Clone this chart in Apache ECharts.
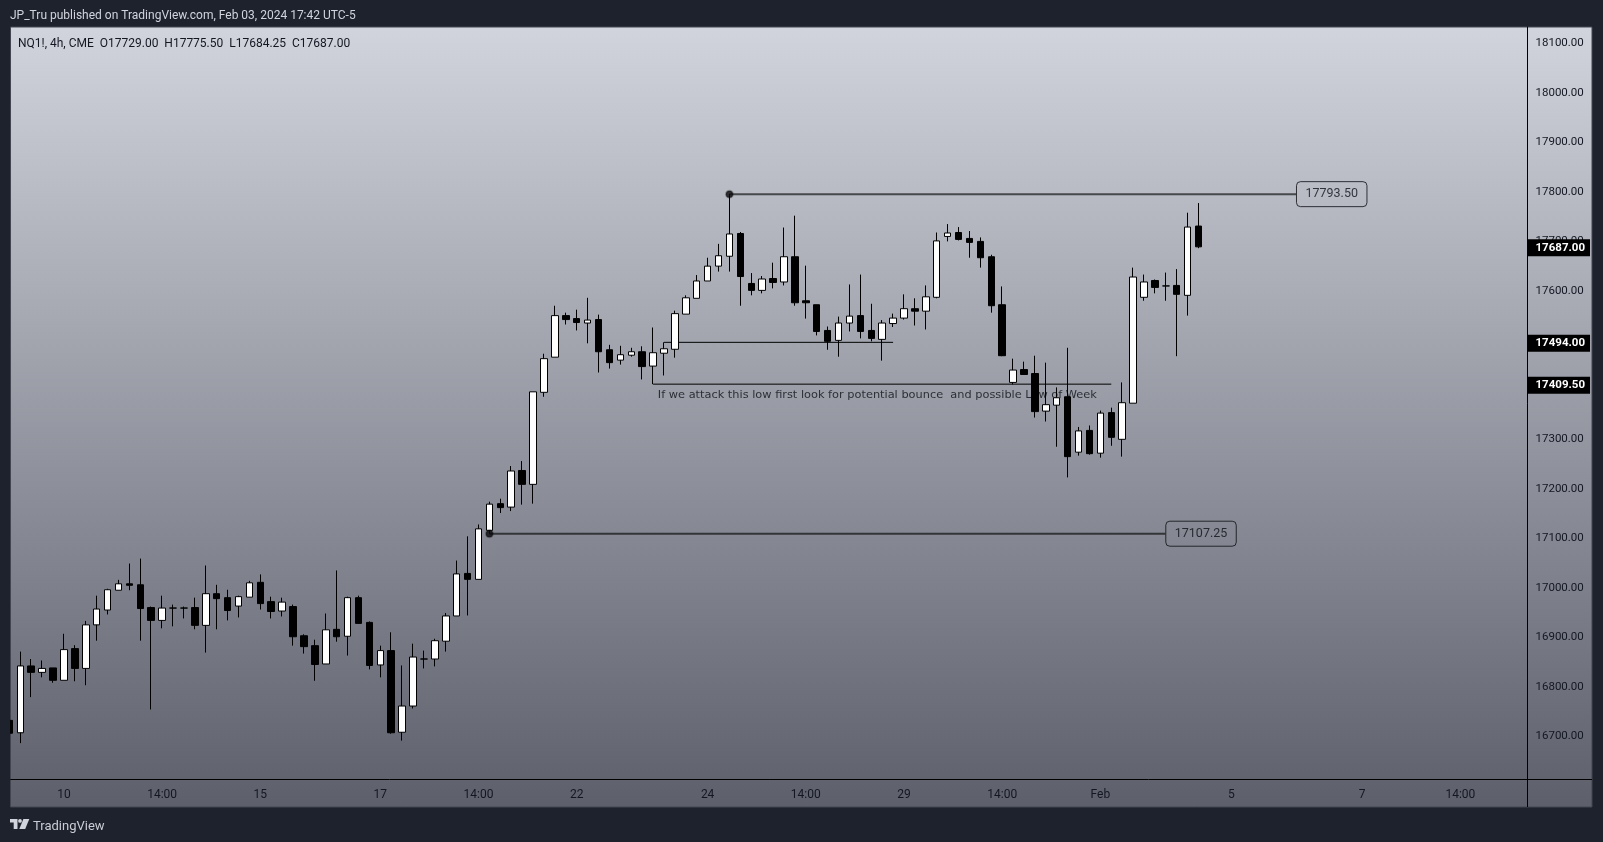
<!DOCTYPE html>
<html>
<head>
<meta charset="UTF-8">
<title></title>
<style>
	html, body { margin: 0; padding: 0; background: #1e222d; }
	#chart { width: 1603px; height: 842px; }
</style>
<script src="https://cdn.jsdelivr.net/npm/echarts@6/dist/echarts.min.js"></script>
</head>
<body>
<div id="chart"></div>
<script>
// 4h bars, first one is cut off by the left edge of the pane (index -1)
var opens = [16730,
	16705,16840,16827,16836,16811,16875,16835,16923,16953,16993,
	17006,17004,16958,16932,16957,16957,16958,16922,16986,16978,
	16961,16979,17009,16970,16951,16960,16901,16881,16844,16914,
	16900,16978,16928,16842,16871,16706,16759,16854,16854,16890,
	16941,17027,17015,17114,17168,17161,17235,17207,17393,17464,
	17548,17542,17533,17540,17479,17458,17468,17475,17446,17472,
	17480,17551,17583,17618,17648,17668,17714,17613,17599,17623,
	17616,17667,17578,17570,17518,17498,17533,17548,17518,17500,
	17532,17543,17562,17557,17585,17708,17716,17704,17698,17667,
	17570,17413,17439,17431,17355,17367,17384,17272,17316,17270,
	17352,17298,17371,17585,17619,17608,17609,17589,17729];
var closes = [16704,
	16840,16827,16835,16811,16873,16835,16923,16955,16994,17006,
	17003,16956,16932,16957,16957,16957,16922,16986,16976,16952,
	16980,17008,16966,16950,16969,16899,16879,16843,16913,16899,
	16978,16926,16841,16871,16705,16759,16858,16854,16891,16941,
	17026,17015,17117,17167,17160,17234,17207,17394,17461,17548,
	17540,17534,17539,17475,17453,17469,17475,17445,17473,17481,
	17552,17584,17618,17648,17669,17713,17627,17599,17622,17615,
	17667,17574,17574,17516,17496,17533,17547,17516,17502,17533,
	17543,17562,17557,17586,17699,17715,17702,17696,17665,17568,
	17467,17438,17429,17354,17368,17382,17263,17315,17269,17351,
	17302,17372,17626,17616,17605,17608,17591,17727,17687];
var lows = [16700,
	16684,16777,16817,16806,16811,16809,16801,16891,16944,16993,
	16993,16891,16752,16916,16920,16936,16914,16867,16914,16932,
	16938,16979,16954,16936,16940,16881,16865,16810,16844,16889,
	16861,16926,16833,16817,16703,16689,16754,16835,16839,16869,
	16941,16942,17015,17107.25,17149,17153,17166,17168,17384,17464,
	17530,17518,17492,17433,17441,17449,17465,17419,17409.5,17427,
	17463,17551,17583,17618,17637,17637,17568,17589,17593,17603,
	17609,17568,17542,17508,17479,17465,17516,17502,17496,17457,
	17525,17540,17528,17520,17583,17698,17700,17665,17645,17554,
	17466,17409,17429,17342,17334,17283,17221,17265,17267,17261,
	17285,17263,17371,17578,17593,17578,17466,17548,17684.25];
var highs = [16735,
	16869,16854,16851,16836,16905,16882,16931,16982,16996,17014,
	17047,17057,16960,16982,16964,16960,16978,17043,17004,16994,
	16982,17012,17025,16980,16978,16964,16904,16893,16946,17033,
	16980,16982,16930,16881,16908,16841,16885,16871,16895,16947,
	17053,17102,17126,17172,17178,17244,17254,17394,17471,17568,
	17554,17560,17584,17550,17489,17487,17483,17486,17524,17494,
	17558,17589,17630,17665,17693,17793.5,17717,17634,17628,17655,
	17726,17750,17649,17570,17526,17546,17611,17631,17572,17539,
	17552,17591,17583,17609,17716,17733,17727,17719,17706,17671,
	17607,17461,17455,17467,17453,17403,17483,17323,17326,17356,
	17362,17413,17645,17631,17621,17635,17642,17756,17775.5];

var priceTicks = [16700,16800,16900,17000,17100,17200,17300,17400,17500,17600,17700,17800,17900,18000,18100];
var priceTags = [17687, 17494, 17409.5];
var timeTickBars = [4,13,22,33,42,51,63,72,81,90,99,111,123,132];
var timeTickNames = ['10','14:00','15','17','14:00','22','24','14:00','29','14:00','Feb','5','7','14:00'];

var highLevel = [[65,17793.5],[116.93,17793.5]];
var lowLevel = [[43,17107.25],[104.95,17107.25]];
var midLow = [[59,17494],[80,17494]];
var weekLow = [[58,17409.5],[100,17409.5]];
var noteAt = [58.39,17387.2];
var noteText = 'If we attack this low first look for potential bounce  and possible Low of Week';

var candles = opens.map(function (o, i) {
	return [i - 1, o, closes[i], lows[i], highs[i]];
});

var uiFont = 'Roboto';

function levelLine(points) {
	return {
		type: 'line',
		data: points,
		showSymbol: false,
		silent: true,
		z: 3,
		lineStyle: { color: 'rgba(0,0,0,0.62)', width: 2 }
	};
}
function thinLine(points) {
	return {
		type: 'line',
		data: points,
		showSymbol: false,
		silent: true,
		z: 1,
		lineStyle: { color: '#000', width: 1 }
	};
}
function levelTag(points) {
	return {
		type: 'scatter',
		data: [points[1]],
		symbolSize: 1,
		silent: true,
		z: 4,
		itemStyle: { color: 'transparent' },
		label: {
			show: true,
			position: 'right',
			distance: 0,
			formatter: function (p) { return p.value[1].toFixed(2); },
			fontFamily: uiFont,
			fontSize: 12.5,
			color: '#0e1016',
			borderColor: '#0c0d12',
			borderWidth: 1,
			borderRadius: 4,
			padding: [6, 9, 6, 9]
		}
	};
}
function levelDot(points) {
	return {
		type: 'scatter',
		data: [points[0]],
		symbol: 'circle',
		symbolSize: 7,
		silent: true,
		z: 5,
		itemStyle: { color: '#0a0a0c', borderColor: 'rgba(0,0,0,0.3)', borderWidth: 2 }
	};
}

var mychart = echarts.init(document.getElementById('chart'), null, { renderer: 'canvas' });
mychart.setOption({
	animation: false,
	backgroundColor: '#1e222d',
	title: [
		{
			text: 'JP_Tru published on TradingView.com, Feb 03, 2024 17:42 UTC-5',
			left: 10, top: 10, padding: 0,
			textStyle: { color: '#d1d4dc', fontFamily: uiFont, fontSize: 12, fontWeight: 'normal' }
		},
		{
			text: 'NQ1!, 4h, CME  O17729.00  H17775.50  L17684.25  C17687.00',
			left: 18, top: 38, padding: 0,
			textStyle: { color: '#131722', fontFamily: uiFont, fontSize: 12, fontWeight: 'normal' }
		},
		{
			text: 'TradingView',
			left: 33, top: 820, padding: 0,
			textStyle: { color: '#c9ccd4', fontFamily: uiFont, fontSize: 13, fontWeight: 'normal' }
		}
	],
	grid: { left: 10.7, right: 75.5, top: 27, bottom: 62.7 },
	xAxis: {
		type: 'value',
		min: -0.88,
		max: 138.15,
		splitLine: { show: false },
		axisTick: { show: false },
		axisLine: { show: true, onZero: false, lineStyle: { color: '#000', width: 1 } },
		axisLabel: {
			customValues: timeTickBars,
			margin: 10,
			color: '#131722',
			fontFamily: uiFont,
			fontSize: 12,
			hideOverlap: false,
			formatter: function (v) { return timeTickNames[timeTickBars.indexOf(v)]; }
		}
	},
	yAxis: [
		// marks
		{
			type: 'value',
			position: 'right',
			min: 16610.9,
			max: 18131.3,
			splitLine: { show: false },
			axisTick: { show: false },
			axisLine: { show: true, onZero: false, lineStyle: { color: '#000', width: 1 } },
			axisLabel: { show: false }
		},
		// price labels, text sits a little lower than the marks
		{
			type: 'value',
			position: 'right',
			min: 16612.9,
			max: 18133.3,
			splitLine: { show: false },
			axisTick: { show: false },
			axisLine: { show: false },
			axisLabel: {
				customValues: priceTicks,
				margin: 8,
				color: '#131722',
				fontFamily: uiFont,
				fontSize: 11.5,
				hideOverlap: false,
				formatter: function (v) { return v.toFixed(2); }
			}
		},
		{
			type: 'value',
			position: 'right',
			min: 16612.9,
			max: 18133.3,
			z: 5,
			splitLine: { show: false },
			axisTick: { show: false },
			axisLine: { show: false },
			axisLabel: {
				customValues: priceTags,
				margin: 0,
				color: '#fff',
				backgroundColor: '#000',
				fontFamily: uiFont,
				fontSize: 11.5,
				fontWeight: 'bold',
				padding: [2.5, 5, 2.5, 8],
				hideOverlap: false,
				formatter: function (v) { return v.toFixed(2); }
			}
		}
	],
	graphic: [
		{
			type: 'rect', z: -10, silent: true,
			shape: { x: 10.5, y: 27, width: 1581.5, height: 780 },
			style: {
				stroke: '#434651', lineWidth: 1,
				fill: new echarts.graphic.LinearGradient(0, 0, 0, 1, [
					{ offset: 0, color: '#d1d4dc' },
					{ offset: 1, color: '#5d606b' }
				])
			}
		},
		// the bar at index -1 must not show outside the pane
		{ type: 'rect', z: 10, silent: true, shape: { x: 0, y: 27, width: 10, height: 780 }, style: { fill: '#1e222d' } },
		{ type: 'line', z: 6, silent: true, shape: { x1: 1527.5, y1: 779.5, x2: 1527.5, y2: 807 }, style: { stroke: '#000', lineWidth: 1 } },
		{ type: 'line', z: 6, silent: true, shape: { x1: 1527.5, y1: 779.5, x2: 1592, y2: 779.5 }, style: { stroke: '#000', lineWidth: 1 } },
		// logo
		{ type: 'polygon', silent: true, shape: { points: [[10,819],[17.5,819],[17.5,829],[13.7,829],[13.7,822.5],[10,822.5]] }, style: { fill: '#d1d4dc' } },
		{ type: 'circle', silent: true, shape: { cx: 20, cy: 820.9, r: 1.9 }, style: { fill: '#d1d4dc' } },
		{ type: 'polygon', silent: true, shape: { points: [[23.4,819],[29.3,819],[25.2,829],[19.3,829]] }, style: { fill: '#d1d4dc' } }
	],
	series: [
		thinLine(midLow),
		thinLine(weekLow),
		{
			type: 'scatter',
			data: [noteAt],
			symbolSize: 1,
			silent: true,
			z: 1,
			itemStyle: { color: 'transparent' },
			label: {
				show: true,
				position: 'right',
				distance: 0,
				formatter: noteText,
				fontFamily: 'DejaVu Sans',
				fontSize: 11.35,
				color: '#0e1016'
			}
		},
		{
			type: 'candlestick',
			data: candles,
			barWidth: 7,
			silent: true,
			z: 2,
			itemStyle: {
				color: '#fff',
				color0: '#000',
				borderColor: '#000',
				borderColor0: '#000',
				borderColorDoji: '#000',
				borderWidth: 1
			}
		},
		levelLine(highLevel),
		levelLine(lowLevel),
		levelTag(highLevel),
		levelTag(lowLevel),
		levelDot(highLevel),
		levelDot(lowLevel)
	]
});
</script>
</body>
</html>
